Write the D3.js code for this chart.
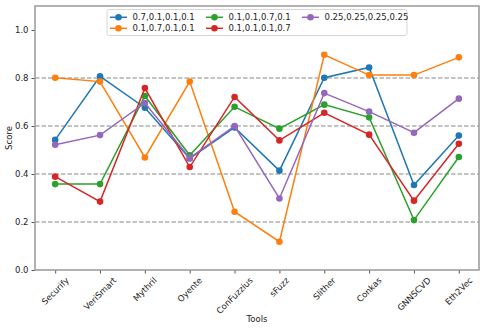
<!DOCTYPE html>
<html>
<head>
<meta charset="utf-8">
<script src="https://cdn.jsdelivr.net/npm/d3@7"></script>
<style>
  body { margin: 0; background: #fff; }
  text { font-family: "DejaVu Sans", sans-serif; fill: #222; }
</style>
</head>
<body>
<script>
const tools = ["Securify", "VeriSmart", "Mythril", "Oyente", "ConFuzzius", "sFuzz", "Slither", "Conkas", "GNNSCVD", "Eth2Vec"];
const seriesNames = ["0.7,0.1,0.1,0.1", "0.1,0.7,0.1,0.1", "0.1,0.1,0.7,0.1", "0.1,0.1,0.1,0.7", "0.25,0.25,0.25,0.25"];
const colors = ["#1f77b4", "#ff7f0e", "#2ca02c", "#d62728", "#9467bd"];
const w1 = [0.542, 0.807, 0.676, 0.465, 0.594, 0.414, 0.801, 0.844, 0.354, 0.560];
const w2 = [0.801, 0.785, 0.469, 0.785, 0.243, 0.118, 0.897, 0.812, 0.812, 0.886];
const w3 = [0.358, 0.358, 0.725, 0.478, 0.680, 0.589, 0.689, 0.636, 0.208, 0.471];
const w4 = [0.389, 0.285, 0.758, 0.429, 0.721, 0.540, 0.655, 0.564, 0.289, 0.526];
const w5 = [0.522, 0.562, 0.696, 0.467, 0.600, 0.298, 0.737, 0.660, 0.572, 0.714];
const yTicks = [0.0, 0.2, 0.4, 0.6, 0.8, 1.0];
const gridTicks = [0.2, 0.4, 0.6, 0.8];

const w = 485, h = 330;
const margin = {top: 6, right: 6, bottom: 60, left: 35};
const width = w - margin.left - margin.right;
const height = h - margin.top - margin.bottom;

const svg = d3.select("body").append("svg")
  .attr("width", w).attr("height", h);
const chart = svg.append("g")
  .attr("transform", "translate(" + margin.left + "," + margin.top + ")");

const step = width / (tools.length - 1 + 0.9);
const x = d3.scalePoint().domain(tools).range([step * 0.45, width - step * 0.45]);
const y = d3.scaleLinear().domain([0, 1.1]).range([height, 0]);

// grid
chart.selectAll(".grid").data(gridTicks).enter().append("line")
  .attr("x1", 0).attr("x2", width)
  .attr("y1", d => y(d)).attr("y2", d => y(d))
  .attr("stroke", "#888").attr("stroke-width", 1.2)
  .attr("stroke-dasharray", "4.5,2");

// y axis
const yAxis = chart.append("g")
  .call(d3.axisLeft(y).tickValues(yTicks).tickFormat(d3.format(".1f")).tickSize(3.5).tickPadding(3));
yAxis.select(".domain").remove();
yAxis.selectAll("line").attr("stroke", "#555");
yAxis.selectAll("text").attr("font-size", 8.5).style("fill", "#222");

// x axis
const xAxis = chart.append("g")
  .attr("transform", "translate(0," + height + ")")
  .call(d3.axisBottom(x).tickSize(3.5).tickFormat(""));
xAxis.select(".domain").remove();
xAxis.selectAll("line").attr("stroke", "#555");

// rotated x labels, centered under tick
tools.forEach(t => {
  const txt = chart.append("text")
    .attr("font-size", 8.5)
    .attr("text-anchor", "middle")
    .text(t);
  const L = txt.node().getComputedTextLength();
  const cy = height + 6 + (L + 8) * 0.707 / 2;
  txt.attr("transform", "translate(" + x(t) + "," + cy + ") rotate(-45)")
    .attr("dy", "0.35em");
});

// frame
chart.append("rect")
  .attr("width", width).attr("height", height)
  .attr("fill", "none").attr("stroke", "#999").attr("stroke-width", 1.5);

// series
const allSeries = [w1, w2, w3, w4, w5];
const line = d3.line().x((d, i) => x(tools[i])).y(d => y(d));
allSeries.forEach((s, k) => {
  const g = chart.append("g");
  g.append("path").datum(s)
    .attr("d", line).attr("fill", "none")
    .attr("stroke", colors[k]).attr("stroke-width", 1.5);
  g.selectAll("circle").data(s).enter().append("circle")
    .attr("cx", (d, i) => x(tools[i])).attr("cy", d => y(d))
    .attr("r", 3.3).attr("fill", colors[k]);
});

// axis labels
svg.append("text").attr("x", margin.left + width / 2).attr("y", 322)
  .attr("text-anchor", "middle").attr("font-size", 8.5).text("Tools");
svg.append("text")
  .attr("transform", "translate(12," + (margin.top + height / 2) + ") rotate(-90)")
  .attr("text-anchor", "middle").attr("font-size", 8.5).text("Score");

// legend
const legend = svg.append("g");
legend.append("rect")
  .attr("x", 107).attr("y", 9.5).attr("width", 300).attr("height", 26)
  .attr("rx", 2).attr("fill", "#fff").attr("fill-opacity", 0.85)
  .attr("stroke", "#ccc").attr("stroke-width", 0.8);
const legPos = [[110, 17.3], [110, 28.3], [206, 17.3], [206, 28.3], [302, 17.3]];
seriesNames.forEach((n, k) => {
  const [lx, ly] = legPos[k];
  legend.append("line").attr("x1", lx).attr("x2", lx + 17).attr("y1", ly).attr("y2", ly)
    .attr("stroke", colors[k]).attr("stroke-width", 1.5);
  legend.append("circle").attr("cx", lx + 8.5).attr("cy", ly).attr("r", 3.3).attr("fill", colors[k]);
  legend.append("text").attr("x", lx + 22.5).attr("y", ly).attr("dy", "0.35em")
    .attr("font-size", 8.5).text(n);
});
</script>
</body>
</html>
